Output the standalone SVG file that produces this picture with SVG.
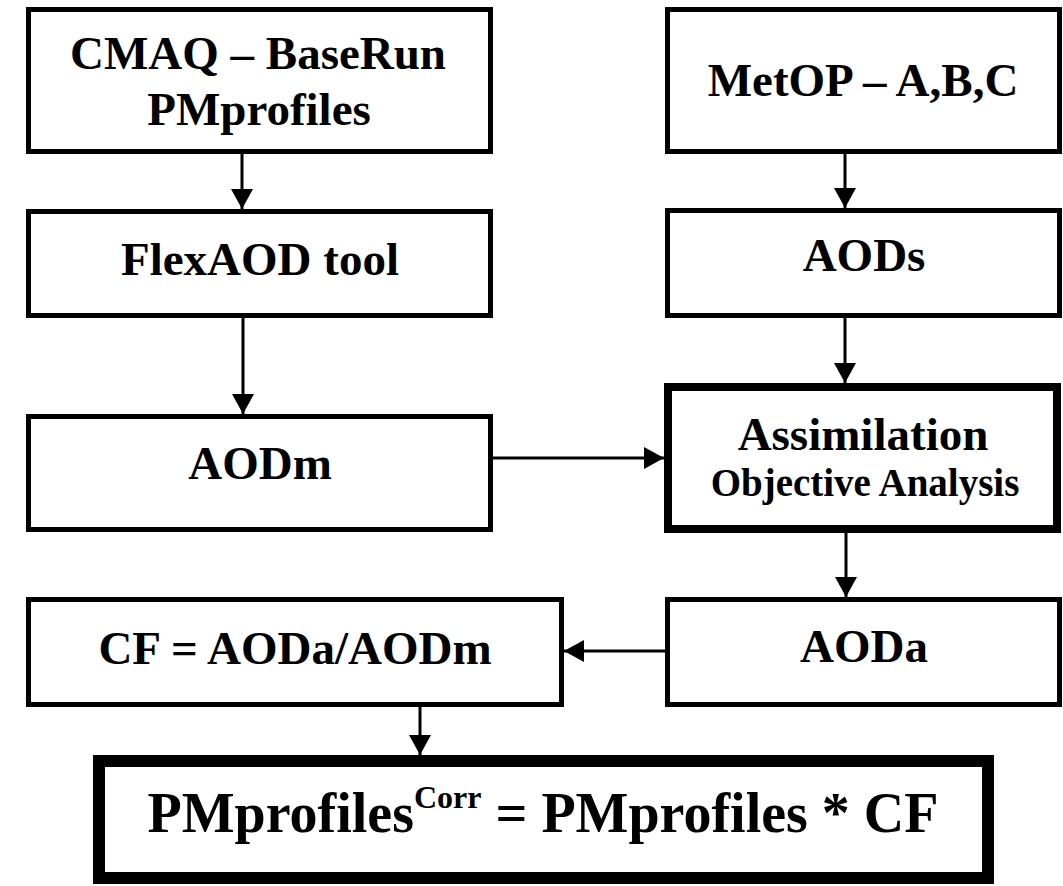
<svg xmlns="http://www.w3.org/2000/svg" width="1063" height="886" viewBox="0 0 1063 886">
  <style>
    .box { fill: #ffffff; stroke: #000000; stroke-width: 5; }
    .thick { stroke-width: 8; }
    .heavy { stroke-width: 12; }
    .lbl { font-family: "Liberation Serif", "Times New Roman", serif; font-weight: bold; font-size: 47px; fill: #000000; text-anchor: middle; }
    .sub { font-size: 39px; }
    .big { font-size: 56px; }
    .conn { stroke: #000000; stroke-width: 3; fill: none; marker-end: url(#arrow); }
  </style>
  <defs>
    <marker id="arrow" viewBox="0 0 20 22" refX="20" refY="11" markerWidth="20" markerHeight="22" markerUnits="userSpaceOnUse" orient="auto">
      <path d="M0,0 L20,11 L0,22 Z" fill="#000000"/>
    </marker>
  </defs>
  <rect width="1063" height="886" fill="#ffffff"/>

  <!-- connectors -->
  <g id="connectors">
    <line class="conn" x1="242" y1="154" x2="242" y2="209"/>
    <line class="conn" x1="243" y1="318" x2="243" y2="414"/>
    <line class="conn" x1="845" y1="154" x2="845" y2="208"/>
    <line class="conn" x1="845" y1="318" x2="845" y2="383"/>
    <line class="conn" x1="493" y1="458" x2="664" y2="458"/>
    <line class="conn" x1="846" y1="533" x2="846" y2="597"/>
    <line class="conn" x1="665" y1="651" x2="564" y2="651"/>
    <line class="conn" x1="420" y1="707" x2="420" y2="755"/>
  </g>

  <!-- left column -->
  <g id="cmaq">
    <rect class="box" x="28.5" y="9.5" width="462" height="142"/>
    <text class="lbl" x="258" y="69">CMAQ – BaseRun</text>
    <text class="lbl" x="259" y="125">PMprofiles</text>
  </g>
  <g id="flexaod">
    <rect class="box" x="28.5" y="211.5" width="462" height="104"/>
    <text class="lbl" x="260" y="275">FlexAOD tool</text>
  </g>
  <g id="aodm">
    <rect class="box" x="28.5" y="416.5" width="462" height="113"/>
    <text class="lbl" x="260" y="479">AODm</text>
  </g>
  <g id="cf">
    <rect class="box" x="28.5" y="599.5" width="533" height="105"/>
    <text class="lbl" x="295" y="664">CF = AODa/AODm</text>
  </g>

  <!-- right column -->
  <g id="metop">
    <rect class="box" x="667.5" y="9.5" width="392" height="142"/>
    <text class="lbl" x="863" y="96">MetOP – A,B,C</text>
  </g>
  <g id="aods">
    <rect class="box" x="667.5" y="210.5" width="392" height="105"/>
    <text class="lbl" x="864" y="271">AODs</text>
  </g>
  <g id="assimilation">
    <rect class="box thick" x="668" y="387" width="389" height="142"/>
    <text class="lbl" x="863" y="450">Assimilation</text>
    <text class="lbl sub" x="865" y="496">Objective Analysis</text>
  </g>
  <g id="aoda">
    <rect class="box" x="667.5" y="599.5" width="392" height="105"/>
    <text class="lbl" x="864" y="662">AODa</text>
  </g>

  <!-- result -->
  <g id="result">
    <rect class="box heavy" x="99" y="761" width="889" height="117"/>
    <text class="lbl big" x="543" y="832">PMprofiles<tspan font-size="32" dy="-24">Corr</tspan><tspan dy="24"> = PMprofiles * CF</tspan></text>
  </g>
</svg>
